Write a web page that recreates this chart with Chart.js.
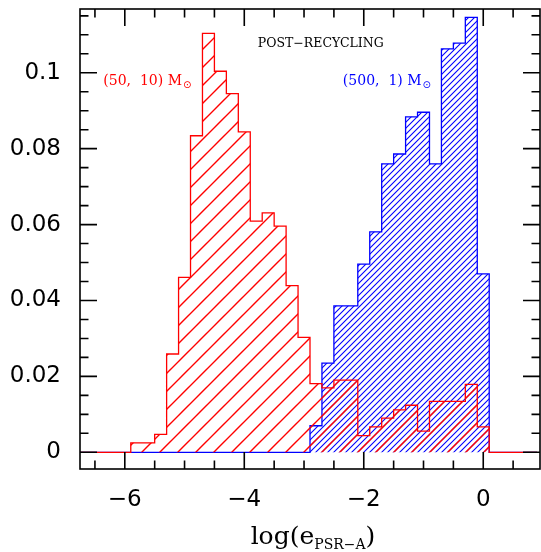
<!DOCTYPE html>
<html>
<head>
<meta charset="utf-8">
<script src="https://cdn.jsdelivr.net/npm/chart.js@4"></script>
<style>
  body { margin: 0; background: #fff; }
  canvas { display: block; }
</style>
</head>
<body>
<canvas id="histChart" width="541" height="552"></canvas>
<script>
// bin edges of the histograms (width 0.2 in log e)
var binEdges = [-6.9, -6.7, -6.5, -6.3, -6.1, -5.9, -5.7, -5.5, -5.3, -5.1,
  -4.9, -4.7, -4.5, -4.3, -4.1, -3.9, -3.7, -3.5, -3.3, -3.1,
  -2.9, -2.7, -2.5, -2.3, -2.1, -1.9, -1.7, -1.5, -1.3, -1.1,
  -0.9, -0.7, -0.5, -0.3, -0.1, 0.1, 0.3, 0.5, 0.7, 0.9];

// (50, 10) Msun
var redFrac = [0, 0, 0, 0, 0, 0.0025, 0.0025, 0.0047, 0.0259, 0.0461,
  0.0834, 0.1104, 0.1004, 0.0945, 0.0844, 0.0609, 0.0631, 0.0596, 0.0439, 0.0303,
  0.0181, 0.0170, 0.0190, 0.0190, 0.0044, 0.0067, 0.0090, 0.0112, 0.0124, 0.0056,
  0.0134, 0.0134, 0.0134, 0.0179, 0.0067, 0, 0, 0, 0];

// (500, 1) Msun
var blueFrac = [0, 0, 0, 0, 0, 0, 0, 0, 0, 0,
  0, 0, 0, 0, 0, 0, 0, 0, 0, 0,
  0.0070, 0.0235, 0.0386, 0.0386, 0.0496, 0.0581, 0.0760, 0.0786, 0.0884, 0.0896,
  0.0760, 0.1063, 0.1078, 0.1146, 0.0470, 0, 0, 0, 0];

var xLabelTicks = [-6, -4, -2, 0];
var xMinorTicks = [-6.5, -5.5, -5, -4.5, -3.5, -3, -2.5, -1.5, -1, -0.5, 0.5];
var yLabelTicks = [0, 0.02, 0.04, 0.06, 0.08, 0.1];
var yMinorTicks = [0.005, 0.01, 0.015, 0.025, 0.03, 0.035, 0.045, 0.05, 0.055,
  0.065, 0.07, 0.075, 0.085, 0.09, 0.095, 0.105, 0.11, 0.115];

function hatch(color, size, width) {
  var c = document.createElement('canvas');
  c.width = size; c.height = size;
  var g = c.getContext('2d');
  g.strokeStyle = color;
  g.lineWidth = width;
  g.beginPath();
  g.moveTo(0, size); g.lineTo(size, 0);
  g.moveTo(-1, 1); g.lineTo(1, -1);
  g.moveTo(size - 1, size + 1); g.lineTo(size + 1, size - 1);
  g.stroke();
  return g.createPattern(c, 'repeat');
}

function steps(vals) {
  var pts = vals.map(function (v, i) { return { x: binEdges[i], y: v }; });
  pts.push({ x: binEdges[binEdges.length - 1], y: 0 });
  return pts;
}

function fmtX(v) {
  return v < 0 ? '\u2212' + Math.abs(v) : String(v);
}

function noPad(s) {
  s.paddingTop = 0; s.paddingBottom = 0; s.paddingLeft = 0; s.paddingRight = 0;
}

var framePlugin = {
  id: 'frame',
  afterDraw: function (chart) {
    var ctx = chart.ctx;
    var a = chart.chartArea;
    var xs = chart.scales.x, ys = chart.scales.y;
    ctx.save();
    ctx.strokeStyle = '#000';
    ctx.lineWidth = 1.6;
    ctx.strokeRect(a.left, a.top, a.right - a.left, a.bottom - a.top);

    ctx.beginPath();
    function xTick(v, len) {
      var p = xs.getPixelForValue(v);
      ctx.moveTo(p, a.bottom); ctx.lineTo(p, a.bottom - len);
      ctx.moveTo(p, a.top); ctx.lineTo(p, a.top + len);
    }
    function yTick(v, len) {
      var p = ys.getPixelForValue(v);
      ctx.moveTo(a.left, p); ctx.lineTo(a.left + len, p);
      ctx.moveTo(a.right, p); ctx.lineTo(a.right - len, p);
    }
    xLabelTicks.forEach(function (v) { xTick(v, 17); });
    xMinorTicks.forEach(function (v) { xTick(v, 8.5); });
    yLabelTicks.forEach(function (v) { yTick(v, 17); });
    yMinorTicks.forEach(function (v) { yTick(v, 8.5); });
    ctx.stroke();

    // annotations
    ctx.textBaseline = 'alphabetic';
    ctx.fillStyle = '#000';
    ctx.font = '12.5px "DejaVu Serif"';
    ctx.textAlign = 'center';
    ctx.fillText('POST\u2212RECYCLING', xs.getPixelForValue(-2.72), ys.getPixelForValue(0.1068));

    function massLabel(text, color, xv) {
      var x = xs.getPixelForValue(xv), y = ys.getPixelForValue(0.0968);
      ctx.fillStyle = color;
      ctx.textAlign = 'left';
      ctx.font = '14px "DejaVu Serif"';
      ctx.fillText(text, x, y);
      var w = ctx.measureText(text).width;
      ctx.font = '10px "DejaVu Sans"';
      ctx.fillText('\u2299', x + w + 1, y + 3);
    }
    massLabel('(50,  10) M', '#ff0000', -6.36);
    massLabel('(500,  1) M', '#0000ff', -2.35);

    // x axis title with subscript
    ctx.fillStyle = '#000';
    ctx.textAlign = 'left';
    var big = '25px "DejaVu Serif"', small = '14px "DejaVu Serif"';
    ctx.font = big; var w1 = ctx.measureText('log(e').width; var w3 = ctx.measureText(')').width;
    ctx.font = small; var w2 = ctx.measureText('PSR\u2212A').width;
    var cx = (a.left + a.right) / 2 + 3;
    var x0 = cx - (w1 + w2 + w3) / 2, base = 544;
    ctx.font = big; ctx.fillText('log(e', x0, base);
    ctx.font = small; ctx.fillText('PSR\u2212A', x0 + w1, base + 5);
    ctx.font = big; ctx.fillText(')', x0 + w1 + w2, base);
    ctx.restore();
  }
};

var ctx = document.getElementById('histChart').getContext('2d');
var chart = new Chart(ctx, {
  type: 'line',
  data: {
    datasets: [{
      label: '(50, 10) Msun',
      data: steps(redFrac),
      stepped: 'before',
      borderColor: '#ff0000',
      borderWidth: 1.3,
      backgroundColor: hatch('#ff0000', 18, 1.4),
      fill: 'origin',
      pointRadius: 0
    }, {
      label: '(500, 1) Msun',
      data: steps(blueFrac),
      stepped: 'before',
      borderColor: '#0000ff',
      borderWidth: 1.3,
      backgroundColor: hatch('#0000ff', 6, 1.1),
      fill: 'origin',
      pointRadius: 0
    }]
  },
  options: {
    responsive: false,
    animation: false,
    devicePixelRatio: 1,
    layout: { padding: { top: 9, right: 1, left: 0, bottom: 0 } },
    plugins: { legend: { display: false }, tooltip: { enabled: false } },
    scales: {
      x: {
        type: 'linear',
        min: -6.75,
        max: 0.95,
        grid: { display: false, drawTicks: false },
        border: { display: false },
        afterFit: function (s) { s.height = 83; noPad(s); },
        afterBuildTicks: function (s) { s.ticks = xLabelTicks.map(function (v) { return { value: v }; }); },
        ticks: {
          autoSkip: false, maxRotation: 0, padding: 17, color: '#000',
          font: { family: 'DejaVu Sans', size: 23 },
          callback: function (v) { return fmtX(v); }
        }
      },
      y: {
        min: -0.0044,
        max: 0.1168,
        grid: { display: false, drawTicks: false },
        border: { display: false },
        afterFit: function (s) { s.width = 80; noPad(s); },
        afterBuildTicks: function (s) { s.ticks = yLabelTicks.map(function (v) { return { value: v }; }); },
        ticks: {
          autoSkip: false, padding: 19, color: '#000',
          font: { family: 'DejaVu Sans', size: 23 },
          callback: function (v) { return String(v); }
        }
      }
    }
  },
  plugins: [framePlugin]
});
</script>
</body>
</html>
